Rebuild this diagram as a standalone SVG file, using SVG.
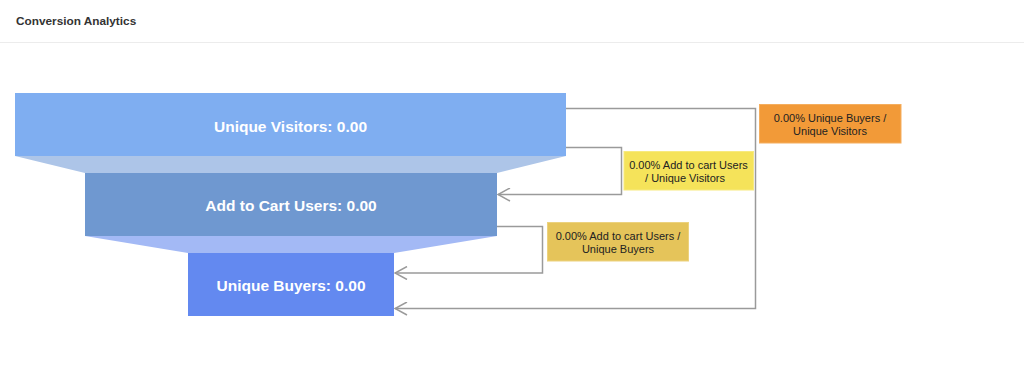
<svg xmlns="http://www.w3.org/2000/svg" width="1024" height="366" viewBox="0 0 1024 366">
<defs>
<style>
.title{font-family:"Liberation Sans",Arial,sans-serif;font-size:11.8px;font-weight:bold;fill:#333}
.stage{font-family:"Liberation Sans",Arial,sans-serif;font-size:15.5px;font-weight:bold;fill:#fff;text-anchor:middle}
.lbl{font-family:"Liberation Sans",Arial,sans-serif;font-size:11px;fill:#222;text-anchor:middle}
.conn{fill:none;stroke:#9a9a9a;stroke-width:1.5}
</style>
<marker id="arr" viewBox="0 0 14 14" refX="13" refY="7" markerWidth="14" markerHeight="14" markerUnits="userSpaceOnUse" orient="auto">
<path d="M1,0.5 L13,7 L1,13.5" fill="none" stroke="#9a9a9a" stroke-width="1.5"/>
</marker>
</defs>
<rect width="1024" height="366" fill="#fff"/>
<g id="header">
<text class="title" x="16" y="24.5">Conversion Analytics</text>
<line x1="0" y1="42.5" x2="1024" y2="42.5" stroke="#ececec" stroke-width="1"/>
</g>
<g id="funnel-necks">
<polygon points="15,156 566,156 497,173 85,173" fill="#adc5e8"/>
<polygon points="85,236 497,236 394,253 188,253" fill="#a3b9f5"/>
</g>
<g id="node-visitors">
<rect x="15" y="93" width="551" height="63" fill="#7faef1"/>
<text class="stage" x="290.5" y="131.5">Unique Visitors: 0.00</text>
</g>
<g id="node-cart">
<rect x="85" y="173" width="412" height="63" fill="#6f98d0"/>
<text class="stage" x="291" y="211">Add to Cart Users: 0.00</text>
</g>
<g id="node-buyers">
<rect x="188" y="253" width="206" height="63" fill="#6389f0"/>
<text class="stage" x="291" y="291">Unique Buyers: 0.00</text>
</g>
<g id="connectors">
<polyline class="conn" points="566,108.5 755.5,108.5 755.5,308.5 395,308.5" marker-end="url(#arr)"/>
<polyline class="conn" points="566,147.5 621.5,147.5 621.5,194.5 498,194.5" marker-end="url(#arr)"/>
<polyline class="conn" points="497,226.5 542.5,226.5 542.5,273 395,273" marker-end="url(#arr)"/>
</g>
<g id="label-buyers-visitors">
<rect x="759.5" y="104.5" width="141.5" height="38.5" fill="#f29a38" stroke="#f5ae5e" stroke-width="1"/>
<text class="lbl" x="830" y="121.5">0.00% Unique Buyers /</text>
<text class="lbl" x="830" y="134.5">Unique Visitors</text>
</g>
<g id="label-cart-visitors">
<rect x="624" y="151.5" width="129.5" height="38.5" fill="#f5e35a" stroke="#f7ea7f" stroke-width="1"/>
<text class="lbl" x="688.5" y="168.5">0.00% Add to cart Users</text>
<text class="lbl" x="685" y="181.5">/ Unique Visitors</text>
</g>
<g id="label-cart-buyers">
<rect x="547.5" y="222.5" width="141" height="38.5" fill="#e5c45a" stroke="#ecd27e" stroke-width="1"/>
<text class="lbl" x="618" y="239.5">0.00% Add to cart Users /</text>
<text class="lbl" x="618" y="252.5">Unique Buyers</text>
</g>
</svg>
